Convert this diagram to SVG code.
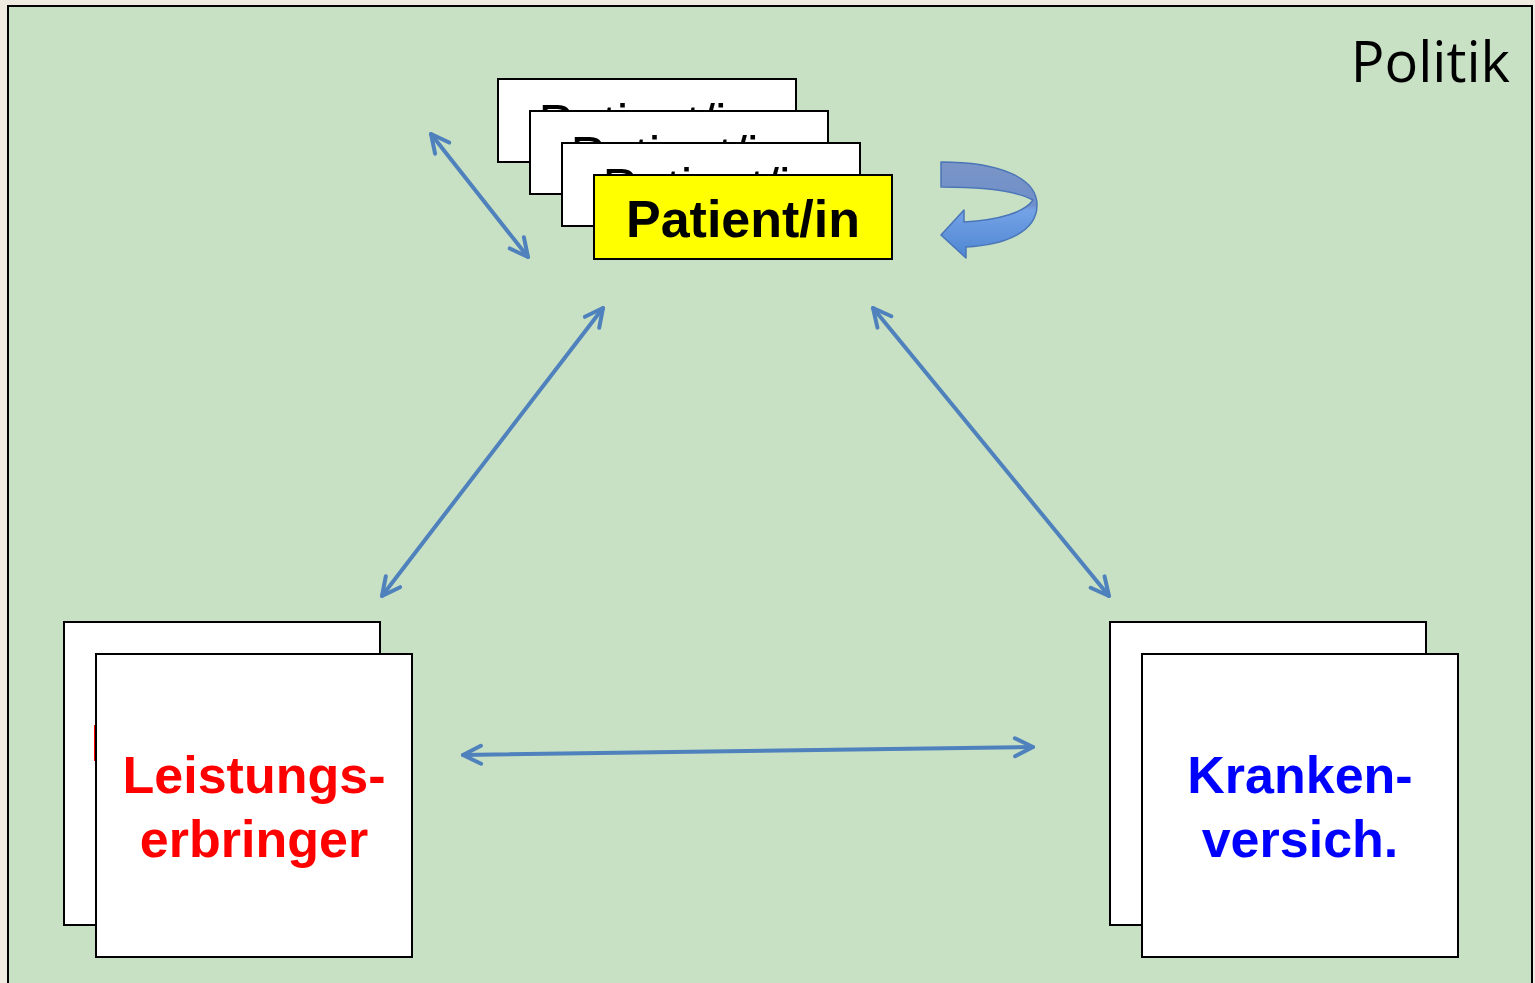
<svg xmlns="http://www.w3.org/2000/svg" width="1535" height="983" viewBox="0 0 1535 983">
<style>
.box{fill:#ffffff;stroke:#000000;stroke-width:2}
.yel{fill:#ffff00;stroke:#000000;stroke-width:2}
.t{font-family:"Liberation Sans",Arial,sans-serif;font-weight:bold;font-size:52px;text-anchor:middle}
.tr{font-family:"Liberation Sans",Arial,sans-serif;font-size:52px;text-anchor:middle}
.blk{fill:#000000}
.red{fill:#ff0000}
.blu{fill:#0000ff}
.con{stroke:#4f81bd;stroke-width:4;fill:none;stroke-linecap:round}
</style>
<defs>
<marker id="ah" markerUnits="userSpaceOnUse" viewBox="0 0 24 24" refX="21" refY="12" markerWidth="24" markerHeight="24" orient="auto-start-reverse">
<path d="M3,3 L21,12 L3,21" fill="none" stroke="#4f81bd" stroke-width="4" stroke-linecap="round" stroke-linejoin="round"/>
</marker>
<linearGradient id="cg" x1="0" y1="0" x2="0" y2="1">
<stop offset="0" stop-color="#7b95c6"/>
<stop offset="0.45" stop-color="#6f8fca"/>
<stop offset="0.5" stop-color="#74a2e6"/>
<stop offset="1" stop-color="#4e86d2"/>
</linearGradient>
<clipPath id="c1"><rect x="499" y="80" width="296" height="31"/></clipPath>
<clipPath id="c2"><rect x="531" y="112" width="296" height="31"/></clipPath>
<clipPath id="c3"><rect x="563" y="144" width="296" height="31"/></clipPath>
<clipPath id="c4"><rect x="65" y="623" width="31" height="301"/></clipPath>
</defs>
<rect x="0" y="0" width="1535" height="983" fill="#efebe0"/>
<g id="politik">
<rect x="8" y="6" width="1524" height="995" fill="#c8e0c4" stroke="#000000" stroke-width="2"/>
<text x="1510" y="82" font-family="'Open Sans',sans-serif" font-size="56" fill="#000000" text-anchor="end">Politik</text>
</g>
<g id="connectors">
<line class="con" x1="431" y1="134" x2="528" y2="257" marker-start="url(#ah)" marker-end="url(#ah)"/>
<line class="con" x1="603" y1="308" x2="382" y2="596" marker-start="url(#ah)" marker-end="url(#ah)"/>
<line class="con" x1="873" y1="308" x2="1109" y2="596" marker-start="url(#ah)" marker-end="url(#ah)"/>
<line class="con" x1="463" y1="755" x2="1033" y2="747" marker-start="url(#ah)" marker-end="url(#ah)"/>
<path id="selfloop" d="M941,162 C1000,162 1037,178 1037,205 C1037,232 1005,245 966,247 L966,258 L941,235 L964,210 L964,222 C1000,220 1025,212 1033,200 C1015,190 980,187 941,187 Z" fill="url(#cg)" stroke="#4a76b8" stroke-width="1.5" stroke-linejoin="round"/>
</g>
<g id="patient">
<rect class="box" x="498" y="79" width="298" height="83"/>
<text class="tr blk" x="647" y="141" clip-path="url(#c1)">Patient/in</text>
<rect class="box" x="530" y="111" width="298" height="83"/>
<text class="tr blk" x="679" y="173" clip-path="url(#c2)">Patient/in</text>
<rect class="box" x="562" y="143" width="298" height="83"/>
<text class="tr blk" x="711" y="205" clip-path="url(#c3)">Patient/in</text>
<rect class="yel" x="594" y="175" width="298" height="84"/>
<text class="t blk" x="743" y="237">Patient/in</text>
</g>
<g id="leistungserbringer">
<rect class="box" x="64" y="622" width="316" height="303"/>
<text class="t red" x="222" y="761" clip-path="url(#c4)">Leistungs-</text>
<rect class="box" x="96" y="654" width="316" height="303"/>
<text class="t red" x="254" y="793">Leistungs-</text>
<text class="t red" x="254" y="857">erbringer</text>
</g>
<g id="krankenversicherung">
<rect class="box" x="1110" y="622" width="316" height="303"/>
<rect class="box" x="1142" y="654" width="316" height="303"/>
<text class="t blu" x="1300" y="793">Kranken-</text>
<text class="t blu" x="1300" y="857">versich.</text>
</g>
</svg>
